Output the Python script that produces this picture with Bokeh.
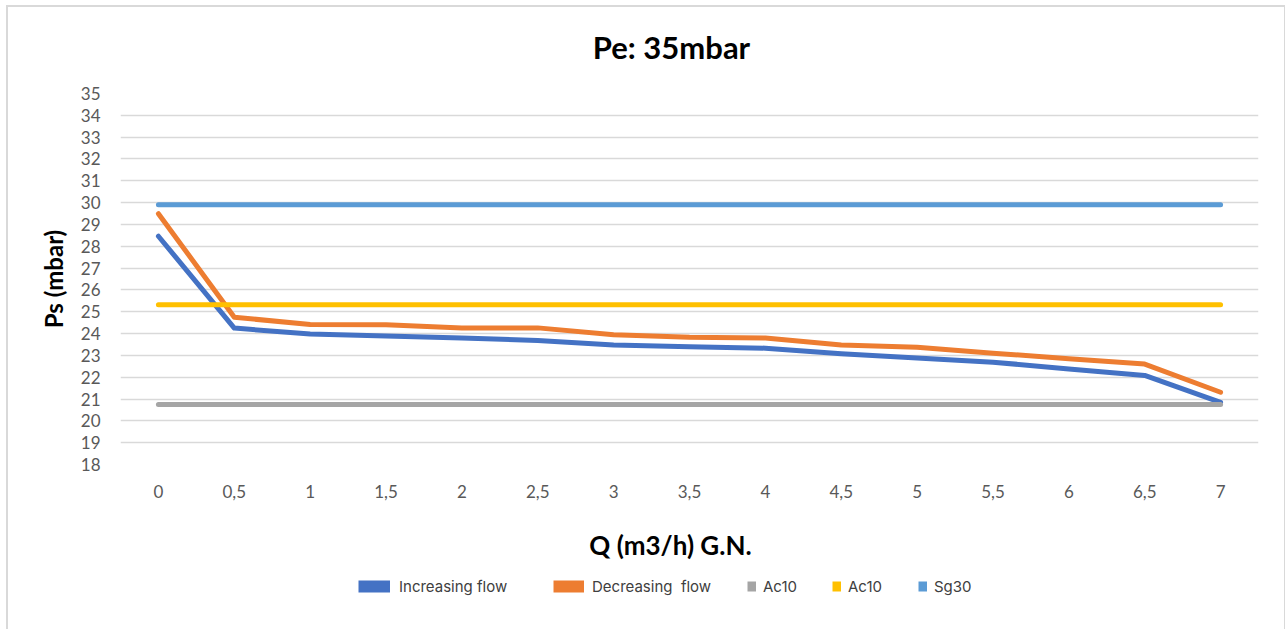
from bokeh.plotting import figure
from bokeh.models import Legend, LegendItem, FixedTicker, Range1d, Label
from bokeh.layouts import column
from bokeh.embed import file_html
from bokeh.resources import INLINE

# ---- data ----
q = [0, 0.5, 1, 1.5, 2, 2.5, 3, 3.5, 4, 4.5, 5, 5.5, 6, 6.5, 7]
q_labels = ["0", "0,5", "1", "1,5", "2", "2,5", "3", "3,5", "4", "4,5", "5", "5,5", "6", "6,5", "7"]
increasing = [28.46, 24.25, 23.98, 23.89, 23.80, 23.68, 23.48, 23.39, 23.33, 23.07, 22.88, 22.69, 22.38, 22.08, 20.85]
decreasing = [29.49, 24.75, 24.41, 24.40, 24.26, 24.26, 23.95, 23.83, 23.80, 23.48, 23.37, 23.10, 22.85, 22.60, 21.31]
ac10_gray = [20.75, 20.75, 20.75, 20.75, 20.75, 20.75, 20.75, 20.75, 20.75, 20.75, 20.75, 20.75, 20.75, 20.75, 20.75]
ac10_yellow = [25.32, 25.32, 25.32, 25.32, 25.32, 25.32, 25.32, 25.32, 25.32, 25.32, 25.32, 25.32, 25.32, 25.32, 25.32]
sg30 = [29.9, 29.9, 29.9, 29.9, 29.9, 29.9, 29.9, 29.9, 29.9, 29.9, 29.9, 29.9, 29.9, 29.9, 29.9]
y_ticks = list(range(18, 36))
series_names = ["Increasing flow", "Decreasing  flow", "Ac10", "Ac10", "Sg30"]
series_values = [increasing, decreasing, ac10_gray, ac10_yellow, sg30]
series_colors = ["#4472C4", "#ED7D31", "#A5A5A5", "#FFC000", "#5B9BD5"]
title_text = "Pe: 35mbar"
x_title = "Q (m3/h) G.N."
y_title = "Ps (mbar)"

W = 1285
SIDE_BORDER = "inset 6px 0 0 0 white, inset 8px 0 0 0 #d9d9d9, inset -1px 0 0 0 #d9d9d9"


def strip(height, shadow):
    f = figure(width=W, height=height, output_backend="svg", toolbar_location=None,
               x_axis_type=None, y_axis_type=None, x_range=Range1d(0, 1), y_range=Range1d(0, 1),
               min_border_left=0, min_border_right=0, min_border_top=0, min_border_bottom=0)
    f.title = None
    f.styles = {"box-shadow": shadow}
    f.outline_line_color = None
    f.background_fill_alpha = 0
    f.border_fill_alpha = 0
    f.xgrid.visible = False
    f.ygrid.visible = False
    return f


# ---- title strip (its frame is aligned with the chart frame, left edge at x=120) ----
top = strip(80, "inset 6px 5px 0 0 white, inset 8px 7px 0 0 #d9d9d9, inset -1px 0 0 0 #d9d9d9")
top.add_layout(Label(x=551, y=34, x_units="screen", y_units="screen", text=title_text,
                     text_font="Lato", text_font_style="bold", text_font_size="31px",
                     text_align="center", text_baseline="middle", text_color="#000000"))

# ---- main chart ----
p = figure(width=W, height=440, output_backend="svg", toolbar_location=None,
           x_range=Range1d(-0.25, 7.25), y_range=Range1d(18, 35),
           min_border_left=120, min_border_right=27, min_border_top=13, min_border_bottom=56)
p.title = None
p.styles = {"box-shadow": SIDE_BORDER}
p.outline_line_color = None
p.background_fill_alpha = 0
p.border_fill_alpha = 0

for ax in (p.xaxis[0], p.yaxis[0]):
    ax.axis_line_color = None
    ax.major_tick_line_color = None
    ax.minor_tick_line_color = None
    ax.major_label_text_font = "Lato"
    ax.major_label_text_font_size = "17px"
    ax.major_label_text_color = "#595959"
    ax.axis_label_text_font = "Lato"
    ax.axis_label_text_font_style = "bold"
    ax.axis_label_text_color = "#000000"
p.xaxis.ticker = FixedTicker(ticks=q)
p.xaxis.major_label_overrides = {v: l for v, l in zip(q, q_labels)}
p.xaxis.major_label_standoff = 14
p.yaxis.ticker = FixedTicker(ticks=y_ticks)
p.yaxis.major_label_standoff = 14
p.yaxis.axis_label = y_title
p.yaxis.axis_label_text_font_size = "24px"
p.yaxis.axis_label_standoff = 10

p.xgrid.grid_line_color = None
p.ygrid.grid_line_color = "#D9D9D9"
p.ygrid.grid_line_width = 1.5

for vals, col in zip(series_values, series_colors):
    p.line(q, vals, line_color=col, line_width=5, line_cap="round", line_join="round")

# ---- x title + legend strip ----
lf = strip(109, SIDE_BORDER)
lf.add_layout(Label(x=550, y=85, x_units="screen", y_units="screen", text=x_title,
                    text_font="Lato", text_font_style="bold", text_font_size="26px",
                    text_align="center", text_baseline="middle", text_color="#000000"))

frame_left = 120
legend_x = [358, 553, 747, 832, 918]
glyph_w = [32, 31, 9, 9, 9]
swatch_h = [12, 12, 10, 10, 10]
standoffs = [9, 8, 7, 7, 7]
for name, col, lx, gw, lw, st in zip(series_names, series_colors, legend_x, glyph_w, swatch_h, standoffs):
    # proxy renderer placed outside the strip's range: only its legend swatch shows
    r = lf.line([5, 6], [5, 5], line_color=col, line_width=lw, line_cap="butt")
    lg = Legend(items=[LegendItem(label=name, renderers=[r])],
                location=(lx - frame_left, 33), orientation="horizontal",
                glyph_width=gw, glyph_height=20, label_height=20,
                label_standoff=st, padding=0, margin=0, spacing=0,
                border_line_color=None, background_fill_alpha=0,
                label_text_font="Inter", label_text_font_size="15px",
                label_text_color="#404040")
    lf.add_layout(lg, "center")

layout = column(top, p, lf, spacing=0)
open("out.html", "w").write(file_html(layout, INLINE))
